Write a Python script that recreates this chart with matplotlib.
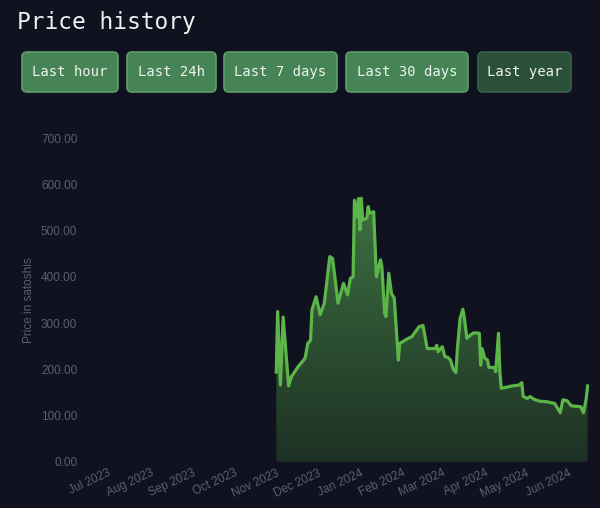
import matplotlib
matplotlib.use('Agg')
import matplotlib.dates as mdates
import matplotlib.pyplot as plt
import numpy as np
import pandas as pd
from matplotlib.colors import LinearSegmentedColormap
from matplotlib.patches import FancyBboxPatch

# price history
dates = ['2023-11-01', '2023-11-02', '2023-11-04', '2023-11-06', '2023-11-10', '2023-11-12',
         '2023-11-17', '2023-11-22', '2023-11-24', '2023-11-26', '2023-11-27', '2023-11-30',
         '2023-12-03', '2023-12-06', '2023-12-08', '2023-12-10', '2023-12-12', '2023-12-14',
         '2023-12-16', '2023-12-20', '2023-12-23', '2023-12-25', '2023-12-27', '2023-12-28',
         '2023-12-30', '2023-12-31', '2024-01-01', '2024-01-02', '2024-01-03', '2024-01-06',
         '2024-01-07', '2024-01-08', '2024-01-11', '2024-01-13', '2024-01-16', '2024-01-17',
         '2024-01-19', '2024-01-20', '2024-01-22', '2024-01-24', '2024-01-26', '2024-01-29',
         '2024-01-30', '2024-02-04', '2024-02-08', '2024-02-13', '2024-02-16', '2024-02-19',
         '2024-02-25', '2024-02-26', '2024-02-27', '2024-03-01', '2024-03-03', '2024-03-05',
         '2024-03-07', '2024-03-09', '2024-03-11', '2024-03-12', '2024-03-14', '2024-03-16',
         '2024-03-17', '2024-03-19', '2024-03-22', '2024-03-24', '2024-03-28', '2024-03-29',
         '2024-03-30', '2024-04-01', '2024-04-03', '2024-04-04', '2024-04-08', '2024-04-09',
         '2024-04-11', '2024-04-12', '2024-04-13', '2024-04-18', '2024-04-21', '2024-04-26',
         '2024-04-28', '2024-04-29', '2024-05-02', '2024-05-04', '2024-05-07', '2024-05-11',
         '2024-05-16', '2024-05-22', '2024-05-26', '2024-05-28', '2024-05-31', '2024-06-03',
         '2024-06-10', '2024-06-12', '2024-06-14', '2024-06-15']
prices = [194, 325, 166, 313, 164, 184,
          206, 224, 256, 263, 328, 357,
          318, 343, 393, 444, 440, 393,
          343, 386, 361, 397, 400, 566,
          530, 570, 502, 570, 523, 527,
          552, 538, 541, 400, 437, 422,
          321, 314, 408, 364, 354, 220,
          256, 265, 271, 292, 295, 245,
          245, 252, 238, 249, 227, 226,
          220, 200, 193, 242, 310, 330,
          314, 267, 275, 279, 278, 209,
          245, 224, 220, 204, 204, 195,
          278, 195, 159, 162, 164, 166,
          171, 141, 137, 141, 135, 131,
          130, 126, 106, 134, 132, 121,
          119, 106, 137, 164]

buttons = ['Last hour', 'Last 24h', 'Last 7 days', 'Last 30 days', 'Last year']
y_ticks = [0, 100, 200, 300, 400, 500, 600, 700]

bg = '#10131f'
line_color = '#5cb548'
tick_color = '#5a5f70'
ui_font = 'DejaVu Sans Mono'
axis_font = 'Liberation Sans'

x = pd.to_datetime(dates)
y = np.array(prices, dtype=float)

fig = plt.figure(figsize=(6.0, 5.08), dpi=100, facecolor=bg)
W, H = 600, 508

# title and range buttons (figure pixel coords)
fig.text(17 / W, 1 - 23 / H, 'Price history', color='#f0f0f0', fontsize=16.5,
         va='center', ha='left', family=ui_font)

btn_x = [(22, 118), (127, 216), (224, 337), (346, 468), (478, 571)]
for label, (x0, x1) in zip(buttons, btn_x):
    active = label == 'Last year'
    face = '#2a5038' if active else '#468455'
    edge = '#36624a' if active else '#5e9e6c'
    box = FancyBboxPatch((x0 / W, 1 - 92 / H), (x1 - x0) / W, 40 / H,
                         boxstyle='round,pad=0,rounding_size=0.009',
                         transform=fig.transFigure, facecolor=face, edgecolor=edge,
                         linewidth=1.2)
    fig.patches.append(box)
    fig.text((x0 + x1) / 2 / W, 1 - 72 / H, label, color='#eef3ee', fontsize=10,
             ha='center', va='center', family=ui_font)

ax = fig.add_axes([87 / W, 1 - 461.7 / H, (589 - 87) / W, (461.7 - 138.3) / H])
ax.set_facecolor(bg)

# gradient fill under the line
xn = mdates.date2num(x)
poly = ax.fill_between(x, y, 0, facecolor='none', edgecolor='none')
cmap = LinearSegmentedColormap.from_list('g', ['#1d3124', '#3d7140'])
grad = np.linspace(0, 1, 256).reshape(-1, 1)
img = ax.imshow(grad, cmap=cmap, aspect='auto', origin='lower',
                extent=[xn[0], xn[-1], 0, y.max()], zorder=1)
img.set_clip_path(poly.get_paths()[0], transform=ax.transData)
ax.plot(x, y, color=line_color, linewidth=2.3, zorder=3, solid_joinstyle='round')
ax.set_xlim(pd.Timestamp('2023-06-16'), pd.Timestamp('2024-06-16'))
ax.set_ylim(0, 700)

for s in ax.spines.values():
    s.set_visible(False)
ax.set_yticks(y_ticks)
ax.set_yticklabels(['{:.2f}'.format(v) for v in y_ticks])
ax.xaxis.set_major_locator(mdates.MonthLocator(bymonth=range(1, 13), bymonthday=1))
ax.xaxis.set_major_formatter(mdates.DateFormatter('%b %Y'))
ax.tick_params(axis='both', length=0, colors=tick_color, labelsize=8.5)
ax.tick_params(axis='y', pad=7)
ax.tick_params(axis='x', pad=4)
for lbl in ax.get_xticklabels() + ax.get_yticklabels():
    lbl.set_family(axis_font)
for lbl in ax.get_xticklabels():
    lbl.set_rotation(25)
    lbl.set_ha('right')
    lbl.set_rotation_mode('anchor')
ax.set_ylabel('Price in satoshis', color=tick_color, fontsize=8.5, labelpad=4,
              family=axis_font)

fig.savefig('out.png', dpi=100, facecolor=bg)
